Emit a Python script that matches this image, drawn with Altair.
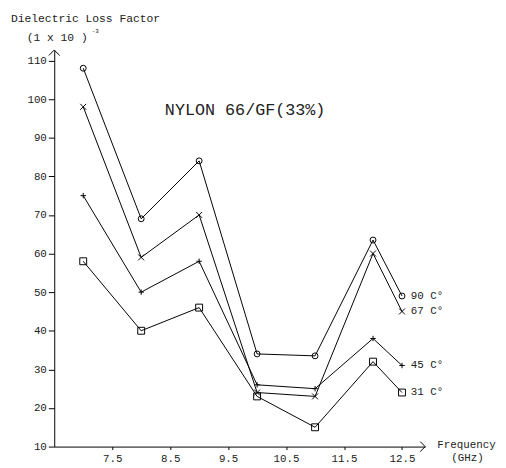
import altair as alt
import pandas as pd

# ---- data ----
freq = [7.0, 8.0, 9.0, 10.0, 11.0, 12.0, 12.5]
loss_90 = [108, 69, 84, 34, 33.5, 63.5, 49]
loss_67 = [98, 59, 70, 24, 23, 60, 45]
loss_45 = [75, 50, 58, 26, 25, 38, 31]
loss_31 = [58, 40, 46, 23, 15, 32, 24]
series_names = ["90 C°", "67 C°", "45 C°", "31 C°"]
y_ticks = [10, 20, 30, 40, 50, 60, 70, 80, 90, 100, 110]
x_ticks = [7.5, 8.5, 9.5, 10.5, 11.5, 12.5]
title_text = "NYLON 66/GF(33%)"
y_title = "Dielectric Loss Factor"
y_unit = "(1 x 10 )"
y_exp = "-3"
x_title = "Frequency"
x_unit = "(GHz)"

x_domain = [6.5, 12.9]
y_domain = [10, 112.7]

FONT = "Liberation Mono"

# marker styles
shape_map = {
    "90 C°": "circle",
    "67 C°": "M-1,-1L1,1M-1,1L1,-1",
    "45 C°": "M-1,0L1,0M0,-1L0,1",
    "31 C°": "square",
}
size_map = {"90 C°": 36, "67 C°": 36, "45 C°": 30, "31 C°": 49}

rows = []
for name, vals in zip(series_names, [loss_90, loss_67, loss_45, loss_31]):
    for i, (f, v) in enumerate(zip(freq, vals)):
        rows.append({"series": name, "freq": f, "loss": v, "idx": i,
                     "msize": size_map[name]})
df = pd.DataFrame(rows)
last = df[df["idx"] == len(freq) - 1]

xs = alt.Scale(domain=x_domain, nice=False, zero=False)
ys = alt.Scale(domain=y_domain, nice=False, zero=False)

x_enc = alt.X("freq:Q", scale=xs,
              axis=alt.Axis(values=x_ticks, format=".1f", title=None, grid=False,
                            tickSize=3, labelPadding=3, labelFontSize=11,
                            labelFont=FONT, labelColor="#222", domainColor="black",
                            tickColor="black", domainWidth=1, labelFlush=False))
y_enc = alt.Y("loss:Q", scale=ys,
              axis=alt.Axis(values=y_ticks, title=None, grid=False,
                            tickSize=6, labelPadding=2, labelFontSize=11,
                            labelFont=FONT, labelColor="#222", domainColor="black",
                            tickColor="black", domainWidth=1))

base = alt.Chart(df).encode(x=x_enc, y=y_enc)

lines = base.mark_line(color="black", strokeWidth=1).encode(
    detail="series:N", order="idx:Q")

points = base.mark_point(filled=False, color="black", strokeWidth=1, opacity=1).encode(
    shape=alt.Shape("series:N",
                    scale=alt.Scale(domain=series_names,
                                    range=[shape_map[s] for s in series_names]),
                    legend=None),
    size=alt.Size("msize:Q", scale=None, legend=None),
)

labels = alt.Chart(last).mark_text(align="left", baseline="middle", dx=9,
                                   fontSize=11, font=FONT, color="#222").encode(
    x=alt.X("freq:Q", scale=xs), y=alt.Y("loss:Q", scale=ys), text="series:N")

arrow_df_y = pd.DataFrame({"freq": [x_domain[0]], "loss": [y_domain[1]]})
arrow_df_x = pd.DataFrame({"freq": [x_domain[1]], "loss": [y_domain[0]]})
arrow_y = alt.Chart(arrow_df_y).mark_point(
    shape="M-1,1L0,0L1,1", filled=False, color="black", strokeWidth=1,
    size=121, opacity=1).encode(x=alt.X("freq:Q", scale=xs), y=alt.Y("loss:Q", scale=ys))
arrow_x = alt.Chart(arrow_df_x).mark_point(
    shape="M-1,-1L0,0L-1,1", filled=False, color="black", strokeWidth=1,
    size=100, opacity=1).encode(x=alt.X("freq:Q", scale=xs), y=alt.Y("loss:Q", scale=ys))


def txt(s, x, y, size, align="center"):
    return alt.Chart(pd.DataFrame({"t": [s]})).mark_text(
        align=align, baseline="middle", fontSize=size, font=FONT, color="#222"
    ).encode(x=alt.value(x), y=alt.value(y), text="t:N")


texts = [
    txt(title_text, 194, 61, 17),
    txt(y_title, -44, -32, 11.5, "left"),
    txt(y_unit, -28, -12, 11.5, "left"),
    txt(y_exp, 38, -19, 6, "left"),
    txt(x_title, 419, 401, 11),
    txt(x_unit, 420, 415, 11),
]

chart = alt.layer(lines, points, labels, arrow_y, arrow_x, *texts).properties(
    width=377, height=403,
    autosize=alt.AutoSizeParams(type="none"),
    padding={"left": 47, "top": 39, "right": 74, "bottom": 18},
    background="white",
).configure_view(stroke=None)

chart.save("out.html", embed_options={"renderer": "svg", "actions": False})
